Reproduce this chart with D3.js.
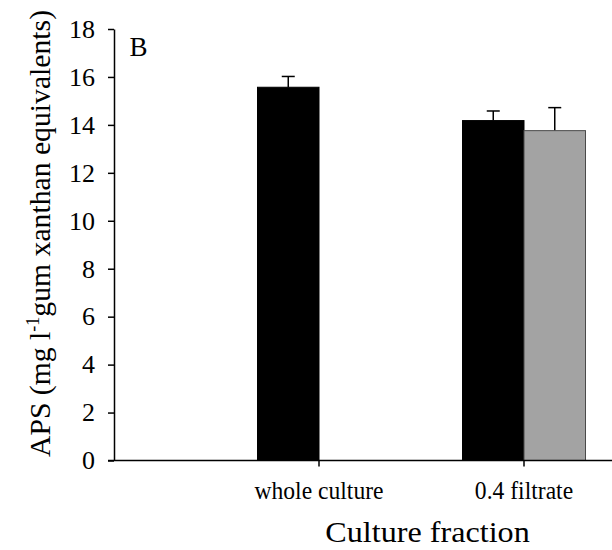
<!DOCTYPE html>
<html>
<head>
<meta charset="utf-8">
<script src="https://cdn.jsdelivr.net/npm/d3@7"></script>
<style>
  html, body { margin: 0; padding: 0; background: #fff; }
  svg { display: block; font-family: "Liberation Serif", "Times New Roman", serif; }
</style>
</head>
<body>
<svg id="chart" width="612" height="550"></svg>
<script>
// Culture fractions along the x axis
const categories = ["whole culture", "0.4 filtrate"];
// First series (black bars) and its standard errors
const blackValues = [15.57, 14.18];
const blackErrors = [0.45, 0.40];
// Second series (grey bars); none for the whole culture
const greyValues = [null, 13.76];
const greyErrors = [null, 0.96];
// Y axis ticks
const yTicks = [0, 2, 4, 6, 8, 10, 12, 14, 16, 18];

const svg = d3.select("#chart");

const y = d3.scaleLinear().domain([0, 18]).range([460.5, 29]);
// categories sit at positions 1 and 2; the axis runs from 0 to past the right edge
const x = d3.scaleLinear().domain([0, 2.45]).range([114, 616.25]);
const barW = x(0.3) - x(0);

// Bars
const bars = [];
categories.forEach((c, i) => {
  const cx = x(i + 1);
  bars.push({ x0: cx - barW, v: blackValues[i], e: blackErrors[i], fill: "#000", stroke: "#000" });
  if (greyValues[i] != null) {
    bars.push({ x0: cx, v: greyValues[i], e: greyErrors[i], fill: "#a3a3a3", stroke: "#4a4a4a" });
  }
});

const g = svg.append("g");

// Error bars (upper whisker only)
g.selectAll("line.err").data(bars).join("line")
  .attr("class", "err")
  .attr("x1", d => d.x0 + barW / 2).attr("x2", d => d.x0 + barW / 2)
  .attr("y1", d => y(d.v)).attr("y2", d => y(d.v + d.e))
  .attr("stroke", "#000").attr("stroke-width", 1.5);
g.selectAll("line.cap").data(bars).join("line")
  .attr("class", "cap")
  .attr("x1", d => d.x0 + barW / 2 - 6.5).attr("x2", d => d.x0 + barW / 2 + 6.5)
  .attr("y1", d => y(d.v + d.e)).attr("y2", d => y(d.v + d.e))
  .attr("stroke", "#000").attr("stroke-width", 1.5);

g.selectAll("rect.bar").data(bars).join("rect")
  .attr("class", "bar")
  .attr("x", d => d.x0).attr("width", barW)
  .attr("y", d => y(d.v)).attr("height", d => y(0) - y(d.v))
  .attr("fill", d => d.fill).attr("stroke", d => d.stroke).attr("stroke-width", 1);

// Y axis
const yAxis = svg.append("g")
  .attr("transform", `translate(${x(0)},0)`)
  .call(d3.axisLeft(y).tickValues(yTicks).tickSize(6).tickPadding(13).tickSizeOuter(0));
yAxis.select(".domain").attr("stroke-width", 1.5);
yAxis.selectAll(".tick line").attr("stroke-width", 1.5);
yAxis.selectAll(".tick text")
  .attr("font-family", "Liberation Serif, serif")
  .attr("font-size", 26).attr("fill", "#000");

// X axis line, extending slightly left of the y axis
svg.append("line")
  .attr("x1", x(0) - 6).attr("x2", 612)
  .attr("y1", y(0)).attr("y2", y(0))
  .attr("stroke", "#000").attr("stroke-width", 1.5);

// X ticks and category labels
categories.forEach((c, i) => {
  const cx = x(i + 1);
  svg.append("line")
    .attr("x1", cx).attr("x2", cx)
    .attr("y1", y(0)).attr("y2", y(0) + 6)
    .attr("stroke", "#000").attr("stroke-width", 1.5);
  svg.append("text")
    .attr("transform", `translate(${cx},498.5) scale(1,1.05)`)
    .attr("text-anchor", "middle")
    .attr("font-size", 23.6).attr("fill", "#000")
    .text(c);
});

// Axis titles
svg.append("text")
  .attr("transform", "translate(427.5,542) scale(1.09,1)")
  .attr("text-anchor", "middle")
  .attr("font-size", 29.5).attr("fill", "#000")
  .text("Culture fraction");

const yt = svg.append("text")
  .attr("transform", "translate(49.5,233.5) rotate(-90)")
  .attr("text-anchor", "middle")
  .attr("font-size", 29.7).attr("fill", "#000");
yt.append("tspan").text("APS (mg l");
yt.append("tspan").attr("font-size", 18).attr("dy", -11).text("-1");
yt.append("tspan").attr("dy", 11).text("gum xanthan equivalents)");

// Panel letter
svg.append("text")
  .attr("x", 129.5).attr("y", 56)
  .attr("font-size", 27).attr("fill", "#000")
  .text("B");
</script>
</body>
</html>
